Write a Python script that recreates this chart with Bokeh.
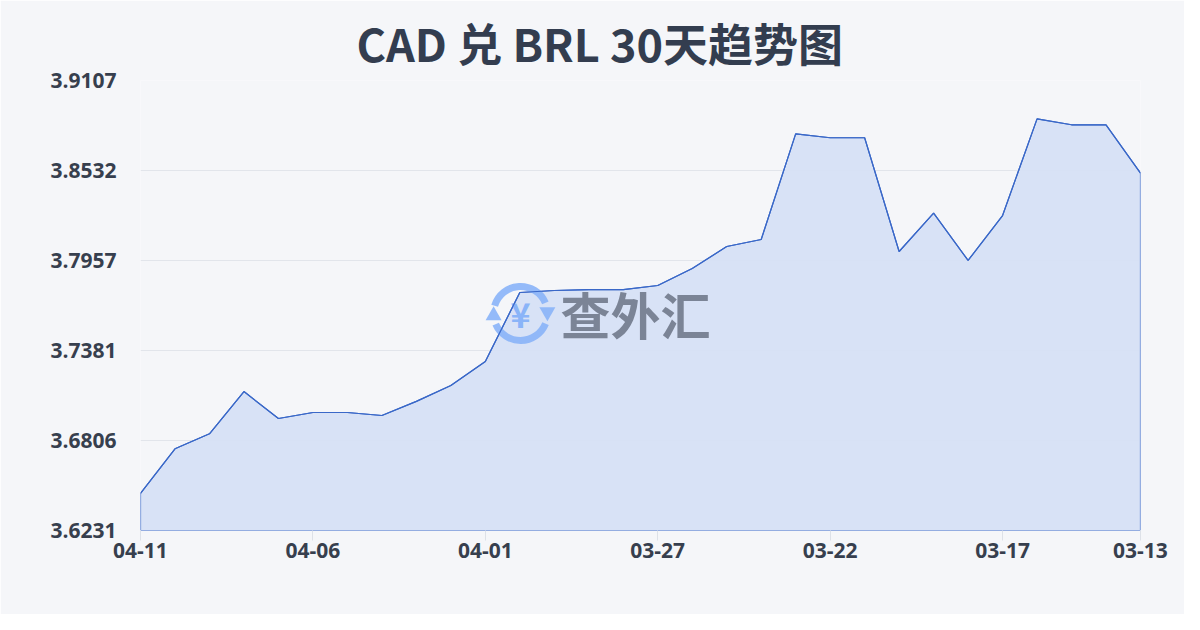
from bokeh.plotting import figure
from bokeh.models import FixedTicker, Title
from bokeh.core.properties import value
from bokeh.embed import file_html
from bokeh.resources import INLINE
import math

dates = ["04-11", "04-10", "04-09", "04-08", "04-07", "04-06", "04-05", "04-04",
         "04-03", "04-02", "04-01", "03-31", "03-30", "03-29", "03-28", "03-27",
         "03-26", "03-25", "03-24", "03-23", "03-22", "03-21", "03-20", "03-19",
         "03-18", "03-17", "03-16", "03-15", "03-14", "03-13"]
rates = [3.6469, 3.6753, 3.6849, 3.7119, 3.6947, 3.6985, 3.6985, 3.6966,
         3.7056, 3.7158, 3.7311, 3.7752, 3.7765, 3.7771, 3.7771, 3.7797,
         3.7905, 3.8046, 3.8091, 3.8766, 3.8741, 3.8741, 3.8014, 3.8259,
         3.7957, 3.8244, 3.8862, 3.8824, 3.8824, 3.8515]
y_ticks = [3.6231, 3.6806, 3.7381, 3.7957, 3.8532, 3.9107]
x_tick_idx = [0, 5, 10, 15, 20, 25, 29]
title_text = "CAD 兑 BRL 30天趋势图"
watermark = "查外汇"

FONT = "Open Sans"
CJK = "Noto Sans CJK SC"
BG = "#f5f6f9"
ICON = "#8ab4f8"

xs = list(range(len(rates)))
ymin, ymax = y_ticks[0], y_ticks[-1]

p = figure(width=1184, height=614, output_backend="svg", toolbar_location=None,
           x_range=(0, len(rates) - 1), y_range=(ymin, ymax),
           min_border_left=140, min_border_right=44, min_border_top=80,
           min_border_bottom=84)
p.background_fill_color = BG
p.border_fill_color = BG
p.outline_line_color = None

t = Title(text=title_text, align="left", offset=216, text_font=CJK, text_font_style="bold",
          text_font_size="45px", text_color="#333d4f", standoff=12)
p.add_layout(t, "above")

# area
px = [xs[0]] + xs + [xs[-1]]
py = [ymin] + rates + [ymin]
p.patch(px, py, fill_color="#d6e0f5", fill_alpha=0.95, line_color="#3a68c8", line_width=1.2)

# watermark icon (two circular arrows around a yen sign)
cx = 11.02
cy = 3.7618
p.arc(x=[cx], y=[cy], radius=27, radius_units="screen", start_angle=0.4, end_angle=2.85,
      line_color=ICON, line_width=7, line_alpha=0.9)
p.arc(x=[cx], y=[cy], radius=27, radius_units="screen", start_angle=3.55, end_angle=5.9,
      line_color=ICON, line_width=7, line_alpha=0.9)
p.scatter(x=[11.80], y=[3.7628], marker="triangle", size=16, angle=math.pi,
          fill_color=ICON, line_color=None, fill_alpha=0.9)
p.scatter(x=[10.24], y=[3.7605], marker="triangle", size=16, angle=0,
          fill_color=ICON, line_color=None, fill_alpha=0.9)
p.text(x=[cx], y=[cy], text=["¥"], text_align="center", text_baseline="middle",
       text_font=value(CJK), text_font_style="bold", text_font_size="34px",
       text_color=ICON)
p.text(x=[12.18], y=[cy], text=[watermark], text_align="left", text_baseline="middle",
       text_font=value(CJK), text_font_style="bold", text_font_size="50px",
       text_color="#6b7385", text_alpha=0.85)

# redraw line on top of watermark
p.line(xs, rates, line_color="#3a68c8", line_width=1.2)

# axes
p.xaxis.ticker = FixedTicker(ticks=x_tick_idx)
p.xaxis.major_label_overrides = {i: dates[i] for i in x_tick_idx}
p.xaxis.axis_line_color = None
p.xaxis.major_tick_line_color = "#dde1e8"
p.xaxis.major_tick_out = 10
p.xaxis.major_tick_in = 0
p.xaxis.minor_tick_line_color = None
p.xaxis.major_label_text_font = FONT
p.xaxis.major_label_text_font_style = "bold"
p.xaxis.major_label_text_font_size = "21px"
p.xaxis.major_label_text_color = "#373f4e"
p.xaxis.major_label_standoff = 2

p.yaxis.ticker = FixedTicker(ticks=y_ticks)
p.yaxis.major_label_overrides = {t: f"{t:.4f}" for t in y_ticks}
p.yaxis.axis_line_color = None
p.yaxis.major_tick_line_color = None
p.yaxis.minor_tick_line_color = None
p.yaxis.major_label_text_font = FONT
p.yaxis.major_label_text_font_style = "bold"
p.yaxis.major_label_text_font_size = "21px"
p.yaxis.major_label_text_color = "#373f4e"
p.yaxis.major_label_standoff = 18

p.xgrid.grid_line_color = None
p.ygrid.ticker = FixedTicker(ticks=y_ticks)
p.ygrid.grid_line_color = "#e2e5eb"
p.ygrid.grid_line_width = 1

open("out.html", "w").write(file_html(p, INLINE))
